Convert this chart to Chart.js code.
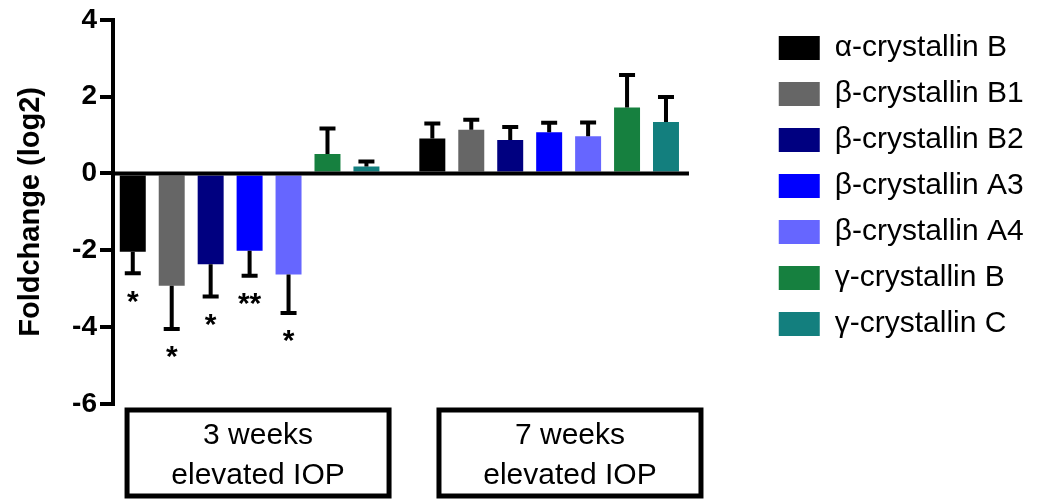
<!DOCTYPE html>
<html>
<head>
<meta charset="utf-8">
<script src="https://cdn.jsdelivr.net/npm/chart.js@4.4.0/dist/chart.umd.min.js"></script>
<style>
  body { margin: 0; background: #fff; }
</style>
</head>
<body>
<canvas id="crystallinChart" width="1057" height="499"></canvas>
<script>
// values (log2 fold change, SEM, significance)
const seriesNames = ['α-crystallin B', 'β-crystallin B1', 'β-crystallin B2', 'β-crystallin A3',
                     'β-crystallin A4', 'γ-crystallin B', 'γ-crystallin C'];
const seriesColors = ['#000000', '#666666', '#000080', '#0000ff', '#6666ff', '#16803f', '#137f7e'];
const groupLabels = [['3 weeks', 'elevated IOP'], ['7 weeks', 'elevated IOP']];
const weeks3 = [-2.04, -2.92, -2.36, -2.01, -2.63, 0.51, 0.18];
const weeks7 = [0.91, 1.14, 0.87, 1.07, 0.97, 1.72, 1.34];
const err3 = [0.56, 1.13, 0.84, 0.65, 1.0, 0.66, 0.13];
const err7 = [0.39, 0.26, 0.34, 0.25, 0.36, 0.84, 0.65];
const stars3 = ['*', '*', '*', '**', '*', '', ''];
const stars7 = ['', '', '', '', '', '', ''];
const yTicks = [-6, -4, -2, 0, 2, 4];

const FONT = "'Liberation Sans', Arial, sans-serif";

function setTicks(values) {
  return function(scale) {
    scale.ticks = values.map(v => ({value: v}));
  };
}

// zero line, error bars + asterisks
const errorBars = {
  id: 'errorBars',
  afterDatasetsDraw(chart) {
    const ctx = chart.ctx;
    const yScale = chart.scales.y;
    let lastRight = chart.chartArea.left;
    chart.data.datasets.forEach((ds, i) => {
      chart.getDatasetMeta(i).data.forEach(bar => {
        lastRight = Math.max(lastRight, bar.x + bar.width / 2);
      });
    });
    ctx.save();
    ctx.strokeStyle = '#000';
    ctx.fillStyle = '#000';
    ctx.lineWidth = 4;
    const y0 = yScale.getPixelForValue(0);
    ctx.beginPath();
    ctx.moveTo(chart.chartArea.left, y0);
    ctx.lineTo(lastRight + 10, y0);
    ctx.stroke();

    ctx.font = 'bold 30px ' + FONT;
    ctx.textAlign = 'center';
    ctx.textBaseline = 'top';
    chart.data.datasets.forEach((ds, i) => {
      const meta = chart.getDatasetMeta(i);
      meta.data.forEach((bar, j) => {
        const v = ds.data[j].y;
        const end = v + Math.sign(v) * ds.errors[j];
        const yEnd = yScale.getPixelForValue(end);
        ctx.beginPath();
        ctx.moveTo(bar.x, bar.y);
        ctx.lineTo(bar.x, yEnd);
        ctx.moveTo(bar.x - 8, yEnd);
        ctx.lineTo(bar.x + 8, yEnd);
        ctx.stroke();
        if (ds.stars[j]) {
          ctx.fillText(ds.stars[j], bar.x, yEnd + 14);
        }
      });
    });
    ctx.restore();
  }
};

// frames round the group labels
const labelBoxes = {
  id: 'labelBoxes',
  afterLayout(chart) {
    // let the legend text run to the canvas edge instead of being clipped
    const lg = chart.legend;
    lg.right = chart.width;
    lg.width = lg.right - lg.left;
  },
  afterDraw(chart) {
    const ctx = chart.ctx;
    const s = chart.scales.xLab;
    ctx.save();
    ctx.strokeStyle = '#000';
    ctx.lineWidth = 5;
    s.ticks.forEach((t, k) => {
      const px = s.getPixelForTick(k);
      ctx.strokeRect(px - 131, s.top + 6, 262, s.bottom - s.top - 9);
    });
    ctx.restore();
  }
};

function setupChart() {
  const datasets = seriesNames.map((name, i) => ({
    label: name,
    data: [{x: 0, y: weeks3[i]}, {x: 1, y: weeks7[i]}],
    errors: [err3[i], err7[i]],
    stars: [stars3[i], stars7[i]],
    backgroundColor: seriesColors[i],
    borderWidth: 0,
    xAxisID: 'x',
    yAxisID: 'y',
    categoryPercentage: 0.91,
    barPercentage: 0.667
  }));

  new Chart(document.getElementById('crystallinChart'), {
    type: 'bar',
    data: { datasets: datasets },
    options: {
      responsive: false,
      animation: false,
      layout: { padding: { top: 17, right: 40, left: 0, bottom: 0 } },
      plugins: {
        tooltip: { enabled: false },
        legend: {
          position: 'right',
          align: 'start',
          labels: {
            boxWidth: 41,
            boxHeight: 24,
            padding: 16,
            color: '#000',
            font: { family: FONT, size: 30 }
          }
        }
      },
      scales: {
        x: {
          type: 'linear',
          position: 'bottom',
          offset: false,
          min: -0.456,
          max: 1.713,
          afterBuildTicks: setTicks([0, 1]),
          afterFit: s => { s.height = 0; },
          ticks: { display: false },
          grid: { display: false, offset: false },
          border: { display: false }
        },
        xLab: {
          type: 'linear',
          position: 'bottom',
          offset: false,
          min: -0.465,
          max: 1.618,
          afterBuildTicks: setTicks([0, 1]),
          afterFit: s => { s.height = 95; },
          grid: { display: false, offset: false },
          border: { display: false },
          ticks: {
            autoSkip: false,
            maxRotation: 0,
            padding: 4,
            color: '#000',
            font: { family: FONT, size: 30, lineHeight: 1.33 },
            callback: (v, idx) => groupLabels[idx]
          }
        },
        y: {
          type: 'linear',
          position: 'left',
          min: -6,
          max: 4,
          afterBuildTicks: setTicks(yTicks),
          afterFit: s => { s.width = 113; },
          grid: { drawOnChartArea: false, drawTicks: true, tickLength: 13, color: '#000', lineWidth: 4 },
          border: { display: true, color: '#000', width: 4 },
          ticks: {
            padding: 3,
            color: '#000',
            font: { family: FONT, size: 28, weight: 'bold' }
          },
          title: {
            display: true,
            text: 'Foldchange (log2)',
            color: '#000',
            padding: { top: 14, bottom: 0 },
            font: { family: FONT, size: 29, weight: 'bold' }
          }
        }
      }
    },
    plugins: [errorBars, labelBoxes]
  });
}

setupChart();
</script>
</body>
</html>
